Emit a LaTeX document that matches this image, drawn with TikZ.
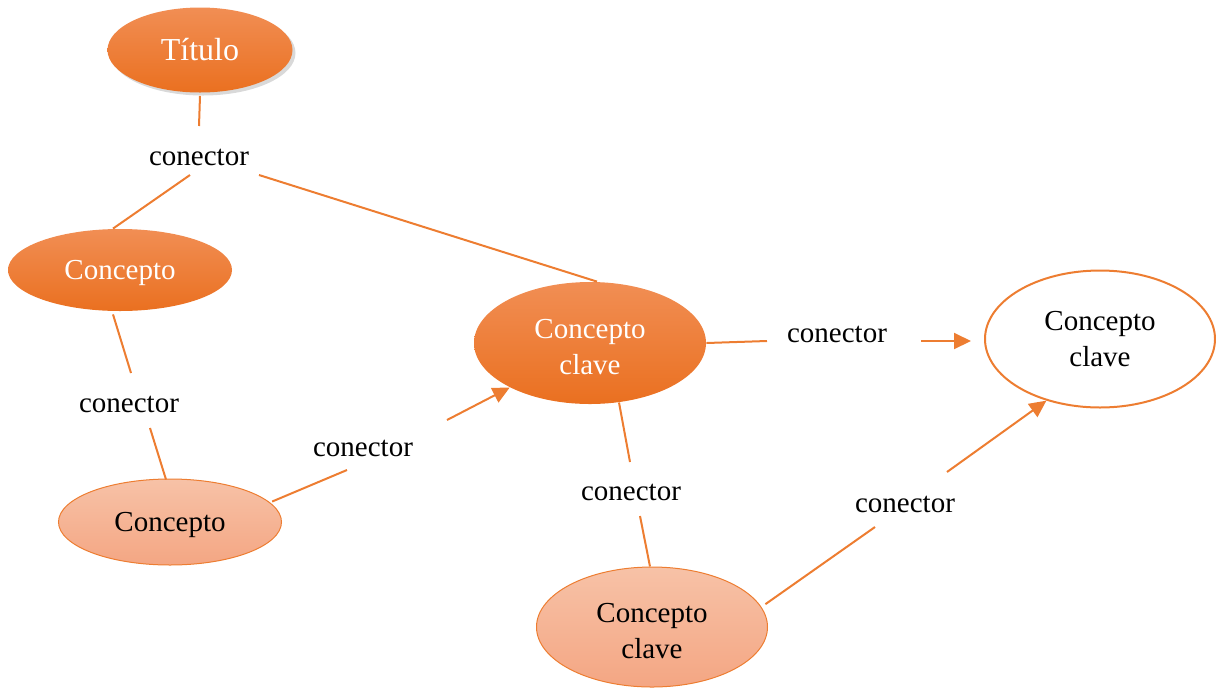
\documentclass[tikz,border=0pt]{standalone}
\usepackage{fontspec}
\setmainfont{Liberation Serif}
\usetikzlibrary{shapes.geometric,arrows.meta,calc,shadows}
\definecolor{lineor}{RGB}{237,125,49}
\definecolor{darktop}{RGB}{241,142,84}
\definecolor{darkbot}{RGB}{234,112,32}
\definecolor{lighttop}{RGB}{247,194,167}
\definecolor{lightbot}{RGB}{244,166,131}
\newcommand{\topstrut}{\rule{0pt}{14pt}}
\begin{document}
\begin{tikzpicture}[x=0.5pt,y=-0.5pt,
  base/.style={ellipse,inner sep=0pt,align=center,font=\fontsize{14.5}{18}\selectfont},
  darknode/.style={base,top color=darktop,bottom color=darkbot,draw=none,text=white},
  lightnode/.style={base,top color=lighttop,bottom color=lightbot,draw=lineor,line width=0.5pt,text=black},
  whitenode/.style={base,fill=white,draw=lineor,line width=1pt,text=black},
  lbl/.style={inner sep=0pt,font=\fontsize{14.5}{18}\selectfont},
  conn/.style={draw=lineor,line width=1pt},
  arr/.style={conn,-{Triangle[length=8.5pt,width=8pt]}}
]
\useasboundingbox (0,0) rectangle (1216,687);

% nodes
\node[darknode,minimum width=92.5pt,minimum height=42.5pt,
  font=\fontsize{16}{18}\selectfont,
  drop shadow={opacity=0.3,shadow xshift=1.5pt,shadow yshift=-1.5pt}] (t) at (200,50) {Título};
\node[darknode,minimum width=112pt,minimum height=41pt,text depth=0pt] (c1) at (120,270) {Concepto};
\node[darknode,minimum width=116pt,minimum height=61pt] (ck1) at (590,343) {\topstrut Concepto\\clave};
\node[whitenode,minimum width=115pt,minimum height=68.5pt] (ck2) at (1100,339) {Concepto\\clave};
\node[lightnode,minimum width=111.5pt,minimum height=43pt,text depth=0pt] (c2) at (170,522) {Concepto};
\node[lightnode,minimum width=115.5pt,minimum height=60pt] (ck3) at (652,627) {\topstrut Concepto\\clave};

% connector labels
\node[lbl] (l1) at (199,157) {conector};
\node[lbl] (l2) at (129,404) {conector};
\node[lbl] (l3) at (363,448) {conector};
\node[lbl] (l4) at (837,334) {conector};
\node[lbl] (l5) at (631,492) {conector};
\node[lbl] (l6) at (905,504) {conector};

% connectors
\draw[conn] ($(t.south)+(0,3)$) -- ($(l1.center)+(0,-31)$);
\draw[conn] ($(l1.center)+(-9,18)$) -- ($(c1.north)+(-7,0)$);
\draw[conn] ($(l1.center)+(60,18)$) -- ($(ck1.north)+(7,0)$);
\draw[conn] ($(c1.south)+(-7,3)$) -- ($(l2.center)+(2,-31)$);
\draw[conn] ($(l2.center)+(21,24)$) -- ($(c2.north)+(-4,1)$);
\draw[conn] ($(c2.11)+(2,-1)$) -- ($(l3.center)+(-16,22)$);
\draw[arr] ($(l3.center)+(84,-28)$) -- (ck1.209);
\draw[conn] (ck1.east) -- ($(l4.center)+(-70,7)$);
\draw[arr] ($(l4.center)+(84,7)$) -- ($(ck2.west)+(-13,2)$);
\draw[conn] (ck1.296) -- ($(l5.center)+(-1,-30)$);
\draw[conn] ($(l5.center)+(9,24)$) -- ($(ck3.north)+(-2,0)$);
\draw[conn] ($(ck3.12)+(6,0)$) -- ($(l6.center)+(-30,23)$);
\draw[arr] ($(l6.center)+(42,-32)$) -- (ck2.229);
\end{tikzpicture}
\end{document}
